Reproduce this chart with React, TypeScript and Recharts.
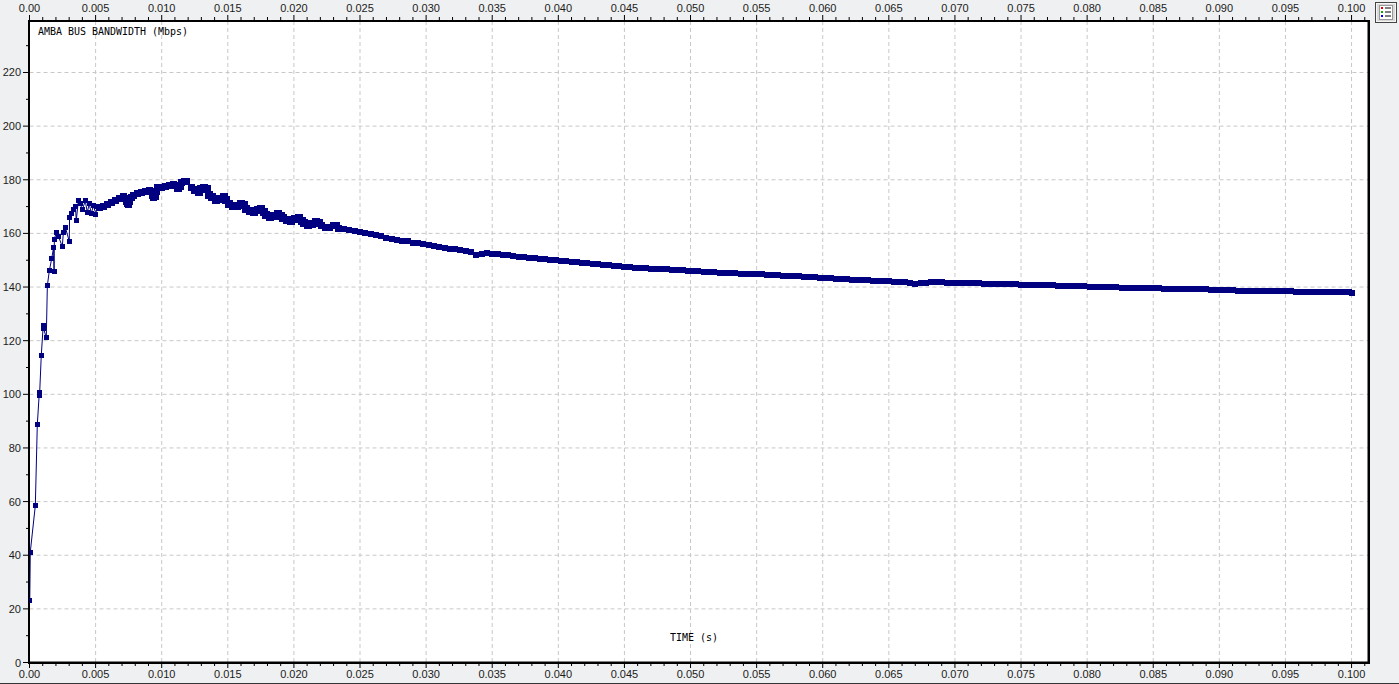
/**
 * AMBA bus bandwidth over time - scope style plot with ticks on all four sides
 */

import { LineChart, Line, XAxis, YAxis, CartesianGrid } from 'recharts';

const rampTimes = [
  0.00002, 0.00006, 0.00044, 0.00059, 0.00074, 0.00076, 0.00089, 0.00104, 0.00106, 0.00127,
  0.00135, 0.0015, 0.00168, 0.00182, 0.00186, 0.00188, 0.00203, 0.00218, 0.00248, 0.00256,
  0.00271, 0.00301, 0.00303, 0.00316, 0.00331, 0.00347, 0.00354, 0.00369, 0.00382, 0.004,
  0.00422, 0.00437, 0.00452, 0.00467, 0.00483, 0.00503, 0.00508, 0.00528,
];
const rampMbps = [
  23.0, 41.2, 58.5, 88.7, 100.5, 99.5, 114.5, 125.8, 124.6, 121.1,
  140.5, 146.1, 150.6, 154.7, 145.8, 157.8, 160.4, 159.0, 155.1, 160.3,
  162.3, 157.0, 165.9, 167.4, 168.9, 170.1, 164.8, 172.1, 171.1, 169.0,
  172.1, 167.9, 171.0, 167.4, 170.3, 167.2, 170.0, 169.6,
];

const humpTimes = [
  0.0053, 0.0056, 0.0059, 0.0062, 0.0065, 0.0068, 0.0071, 0.0072, 0.0073, 0.0074,
  0.0075, 0.0076, 0.0077, 0.0079, 0.0082, 0.0085, 0.0088, 0.0091, 0.0092, 0.0093,
  0.0094, 0.0095, 0.0096, 0.0097, 0.01, 0.0103, 0.0106, 0.0109, 0.0111, 0.0112,
  0.0113, 0.0114, 0.0115, 0.0117, 0.0119, 0.01227, 0.0125, 0.0128, 0.013, 0.0132,
  0.0134, 0.0136, 0.0138, 0.0141, 0.0144, 0.0147, 0.0149, 0.0151, 0.0154, 0.0157,
  0.016, 0.0162, 0.0164, 0.0167, 0.017, 0.0173, 0.0175, 0.0177, 0.0179, 0.0182,
  0.0185, 0.0188, 0.019, 0.0192, 0.0195, 0.0198, 0.0201, 0.0204, 0.0206, 0.0208,
  0.0211, 0.0214, 0.0217, 0.0219, 0.0221, 0.0224, 0.0227, 0.023, 0.0232, 0.0234,
  0.0236,
];
const humpMbps = [
  169.8, 170.2, 170.8, 171.5, 172.3, 173.0, 173.7, 173.2, 172.0, 171.0,
  170.6, 171.8, 173.3, 174.2, 174.9, 175.3, 175.8, 176.0, 175.5, 174.2,
  173.5, 173.6, 175.5, 177.0, 177.3, 177.6, 178.0, 178.3, 177.8, 176.8,
  176.6, 177.6, 179.0, 179.4, 179.5, 177.2, 176.3, 175.6, 176.4, 176.8,
  176.6, 174.2, 173.6, 172.5, 173.0, 173.5, 172.5, 171.0, 170.3, 170.3,
  171.0, 170.6, 169.0, 168.2, 168.0, 168.8, 169.0, 168.0, 166.9, 166.0,
  166.6, 167.2, 166.6, 165.6, 164.9, 164.8, 165.3, 165.7, 164.8, 163.8,
  163.3, 163.6, 164.3, 163.8, 162.8, 162.2, 162.2, 162.8, 162.8, 161.9,
  161.6,
];

const tailTimes = [
  0.0238, 0.0242, 0.0246, 0.025, 0.0254, 0.0258, 0.0262, 0.0266, 0.027, 0.0274,
  0.0278, 0.0282, 0.0286, 0.029, 0.0294, 0.0298, 0.0302, 0.0306, 0.031, 0.0314,
  0.0318, 0.0322, 0.0326, 0.033, 0.0334, 0.0338, 0.0342, 0.0346, 0.035, 0.0354,
  0.0358, 0.0362, 0.0366, 0.037, 0.0374, 0.0378, 0.0382, 0.0386, 0.039, 0.0394,
  0.0398, 0.0402, 0.0406, 0.041, 0.0414, 0.0418, 0.0422, 0.0426, 0.043, 0.0434,
  0.0438, 0.0442, 0.0446, 0.045, 0.0454, 0.0458, 0.0462, 0.0466, 0.047, 0.0474,
  0.0478, 0.0482, 0.0486, 0.049, 0.0494, 0.0498, 0.0502, 0.0506, 0.051, 0.0514,
  0.0518, 0.0522, 0.0526, 0.053, 0.0534, 0.0538, 0.0542, 0.0546, 0.055, 0.0554,
  0.0558, 0.0562, 0.0566, 0.057, 0.0574, 0.0578, 0.0582, 0.0586, 0.059, 0.0594,
  0.0598, 0.0602, 0.0606, 0.061, 0.0614, 0.0618, 0.0622, 0.0626, 0.063, 0.0634,
  0.0638, 0.0642, 0.0646, 0.065, 0.0654, 0.0658, 0.0662, 0.0666, 0.067, 0.0674,
  0.0678, 0.0682, 0.0686, 0.069, 0.0694, 0.0698, 0.0702, 0.0706, 0.071, 0.0714,
  0.0718, 0.0722, 0.0726, 0.073, 0.0734, 0.0738, 0.0742, 0.0746, 0.075, 0.0754,
  0.0758, 0.0762, 0.0766, 0.077, 0.0774, 0.0778, 0.0782, 0.0786, 0.079, 0.0794,
  0.0798, 0.0802, 0.0806, 0.081, 0.0814, 0.0818, 0.0822, 0.0826, 0.083, 0.0834,
  0.0838, 0.0842, 0.0846, 0.085, 0.0854, 0.0858, 0.0862, 0.0866, 0.087, 0.0874,
  0.0878, 0.0882, 0.0886, 0.089, 0.0894, 0.0898, 0.0902, 0.0906, 0.091, 0.0914,
  0.0918, 0.0922, 0.0926, 0.093, 0.0934, 0.0938, 0.0942, 0.0946, 0.095, 0.0954,
  0.0958, 0.0962, 0.0966, 0.097, 0.0974, 0.0978, 0.0982, 0.0986, 0.099, 0.0994,
  0.0998, 0.1,
];
const tailMbps = [
  161.6, 161.3, 161.0, 160.5, 160.1, 159.8, 159.4, 158.9, 158.4, 158.0,
  157.7, 157.3, 157.0, 156.6, 156.3, 155.9, 155.6, 155.2, 154.9, 154.6,
  154.3, 154.0, 153.8, 153.5, 153.2, 152.0, 152.3, 152.6, 152.5, 152.3,
  152.0, 151.8, 151.5, 151.3, 151.1, 150.9, 150.7, 150.5, 150.4, 150.2,
  149.9, 149.8, 149.6, 149.5, 149.3, 149.1, 148.9, 148.7, 148.5, 148.3,
  148.1, 147.9, 147.7, 147.5, 147.4, 147.2, 147.1, 147.0, 146.9, 146.8,
  146.7, 146.6, 146.5, 146.3, 146.2, 146.0, 145.9, 145.8, 145.7, 145.6,
  145.5, 145.4, 145.3, 145.2, 145.1, 145.0, 145.0, 144.9, 144.8, 144.7,
  144.6, 144.5, 144.4, 144.3, 144.2, 144.1, 144.0, 143.9, 143.8, 143.6,
  143.4, 143.3, 143.2, 143.1, 143.0, 142.9, 142.8, 142.7, 142.6, 142.5,
  142.4, 142.3, 142.2, 142.1, 142.0, 141.9, 141.8, 141.6, 141.3, 141.4,
  141.6, 141.7, 141.7, 141.7, 141.6, 141.6, 141.6, 141.5, 141.5, 141.4,
  141.4, 141.3, 141.2, 141.2, 141.1, 141.1, 141.0, 141.0, 140.9, 140.9,
  140.8, 140.8, 140.7, 140.7, 140.6, 140.5, 140.5, 140.4, 140.4, 140.3,
  140.3, 140.2, 140.2, 140.1, 140.0, 139.9, 139.9, 139.8, 139.8, 139.7,
  139.7, 139.6, 139.6, 139.5, 139.5, 139.4, 139.4, 139.3, 139.3, 139.2,
  139.2, 139.1, 139.1, 139.1, 139.0, 139.0, 139.0, 138.9, 138.8, 138.7,
  138.7, 138.6, 138.6, 138.6, 138.5, 138.5, 138.5, 138.4, 138.4, 138.4,
  138.3, 138.3, 138.3, 138.3, 138.2, 138.2, 138.2, 138.2, 138.1, 138.1,
  138.1, 137.8,
];

const xMajorTicks = [
  0, 0.005, 0.01, 0.015, 0.02, 0.025, 0.03, 0.035, 0.04, 0.045, 0.05,
  0.055, 0.06, 0.065, 0.07, 0.075, 0.08, 0.085, 0.09, 0.095, 0.1,
];
const xMinorTicks = [
  0.001, 0.002, 0.003, 0.004, 0.006, 0.007, 0.008, 0.009, 0.011, 0.012, 0.013, 0.014,
  0.016, 0.017, 0.018, 0.019, 0.021, 0.022, 0.023, 0.024, 0.026, 0.027, 0.028, 0.029,
  0.031, 0.032, 0.033, 0.034, 0.036, 0.037, 0.038, 0.039, 0.041, 0.042, 0.043, 0.044,
  0.046, 0.047, 0.048, 0.049, 0.051, 0.052, 0.053, 0.054, 0.056, 0.057, 0.058, 0.059,
  0.061, 0.062, 0.063, 0.064, 0.066, 0.067, 0.068, 0.069, 0.071, 0.072, 0.073, 0.074,
  0.076, 0.077, 0.078, 0.079, 0.081, 0.082, 0.083, 0.084, 0.086, 0.087, 0.088, 0.089,
  0.091, 0.092, 0.093, 0.094, 0.096, 0.097, 0.098, 0.099, 0.101,
];
const yMajorTicks = [0, 20, 40, 60, 80, 100, 120, 140, 160, 180, 200, 220];
const yMinorTicks = [10, 30, 50, 70, 90, 110, 130, 150, 170, 190, 210, 230];

const times = [...rampTimes, ...humpTimes, ...tailTimes];
const mbps = [...rampMbps, ...humpMbps, ...tailMbps];
const data = times.map((t, i) => ({ t, mbps: mbps[i] }));

const WIDTH = 1399;
const HEIGHT = 684;
const NAVY = '#000080';
const TICK_TEXT = '#1c1c1c';
const LABEL_FONT = '"Liberation Sans", sans-serif';
const MONO_FONT = '"DejaVu Sans Mono", monospace';

const xLabel = (v: number) => (v === 0 ? '0.00' : v.toFixed(3));

const XTick = ({ x, payload, top }: any) => {
  const major = xMajorTicks.includes(payload.value);
  const dir = top ? -1 : 1;
  const base = top ? 20 : 663;
  const len = major ? 5 : 3;
  return (
    <g>
      <line x1={x} x2={x} y1={base} y2={base + dir * len} stroke="#000" />
      {major && (
        <text x={x} y={top ? 12 : 678} textAnchor="middle" fontSize={11} fontFamily={LABEL_FONT} fill={TICK_TEXT}>
          {xLabel(payload.value)}
        </text>
      )}
    </g>
  );
};

const YTick = ({ y, payload, right }: any) => {
  const major = yMajorTicks.includes(payload.value);
  const len = major ? 5 : 2;
  const base = right ? 1370 : 28;
  const dir = right ? 1 : -1;
  return (
    <g>
      <line x1={base} x2={base + dir * len} y1={y} y2={y} stroke="#000" />
      {major && (
        <text
          x={right ? 1377 : 21}
          y={y + 4}
          textAnchor={right ? 'start' : 'end'}
          fontSize={11}
          fontFamily={LABEL_FONT}
          fill={TICK_TEXT}
        >
          {payload.value}
        </text>
      )}
    </g>
  );
};

// markers overlap into a band; the overlap is heavier around the scallops
const dotSize = (t: number) => {
  if (t < 0.0052) return 5;
  if (t < 0.0125) return 7;
  if (t < 0.022) return 8;
  if (t < 0.0236) return 7;
  return 6;
};

const SquareDot = ({ cx, cy, payload }: any) => {
  const size = dotSize(payload.t);
  return (
    <rect
      key={`${payload.t}-${payload.mbps}`}
      x={Math.round(cx - size / 2)}
      y={Math.round(cy - size / 2)}
      width={size}
      height={size}
      fill={NAVY}
    />
  );
};

const LegendButton = () => (
  <g>
    <rect x={1375.5} y={2.5} width={21} height={20} fill="#d9d9d9" stroke="#444" />
    <rect x={1376.5} y={3.5} width={19} height={18} fill="none" stroke="#f5f5f5" />
    <rect x={1379.5} y={5.5} width={13} height={14} fill="#fff" stroke="#999" />
    <rect x={1381} y={7} width={2} height={2} fill="#e00000" />
    <rect x={1381} y={11} width={2} height={2} fill="#00b000" />
    <rect x={1381} y={15} width={2} height={2} fill="#0000e0" />
    <line x1={1385} x2={1391} y1={8} y2={8} stroke="#000" />
    <line x1={1385} x2={1391} y1={12} y2={12} stroke="#000" />
    <line x1={1385} x2={1391} y1={16} y2={16} stroke="#000" />
  </g>
);

export default function App() {
  return (
    <div style={{ position: 'fixed', left: 0, top: 0, width: WIDTH, height: HEIGHT, background: '#eff0f1' }}>
      <LineChart
        width={WIDTH}
        height={HEIGHT}
        data={data}
        margin={{ top: 0, right: 0, bottom: 0, left: 0 }}
      >
        <CartesianGrid
          fill="#fff"
          fillOpacity={1}
          stroke="#c8c8c8"
          strokeDasharray="4 3"
          horizontalValues={yMajorTicks.slice(1)}
          verticalValues={xMajorTicks.slice(1)}
        />
        <XAxis
          dataKey="t"
          type="number"
          domain={[0, 0.10132]}
          ticks={[...xMajorTicks, ...xMinorTicks]}
          interval={0}
          height={21.5}
          allowDataOverflow
          axisLine={false}
          tickLine={false}
          tick={<XTick />}
        />
        <XAxis
          xAxisId="top"
          orientation="top"
          dataKey="t"
          type="number"
          domain={[0, 0.10132]}
          ticks={[...xMajorTicks, ...xMinorTicks]}
          interval={0}
          height={21}
          axisLine={false}
          tickLine={false}
          tick={<XTick top />}
        />
        <YAxis
          type="number"
          domain={[0, 239.2]}
          ticks={[...yMajorTicks, ...yMinorTicks]}
          interval={0}
          width={29.5}
          allowDataOverflow
          axisLine={false}
          tickLine={false}
          tick={<YTick />}
        />
        <YAxis
          yAxisId="right"
          orientation="right"
          type="number"
          domain={[0, 239.2]}
          ticks={[...yMajorTicks, ...yMinorTicks]}
          interval={0}
          width={30}
          axisLine={false}
          tickLine={false}
          tick={<YTick right />}
        />
        <Line
          type="linear"
          dataKey="mbps"
          stroke={NAVY}
          strokeWidth={1}
          dot={<SquareDot />}
          activeDot={false}
          isAnimationActive={false}
        />
        <rect x={28} y={20} width={1} height={644} fill="#000" />
        <rect x={28} y={20} width={1342} height={1} fill="#000" />
        <rect x={29.5} y={21.5} width={1338.5} height={640.5} fill="none" stroke="#000" />
        <rect x={1368} y={20} width={2} height={644} fill="#000" />
        <rect x={28} y={662} width={1342} height={2} fill="#000" />
        <rect x={0} y={683} width={WIDTH} height={1} fill="#333" />
        <text x={38} y={35} fontSize={11} fontFamily={MONO_FONT} fill="#000" textLength={150} lengthAdjust="spacingAndGlyphs">
          AMBA BUS BANDWIDTH (Mbps)
        </text>
        <text x={670} y={641} fontSize={11} fontFamily={MONO_FONT} fill="#000" textLength={48} lengthAdjust="spacingAndGlyphs">
          TIME (s)
        </text>
        <LegendButton />
      </LineChart>
    </div>
  );
}
